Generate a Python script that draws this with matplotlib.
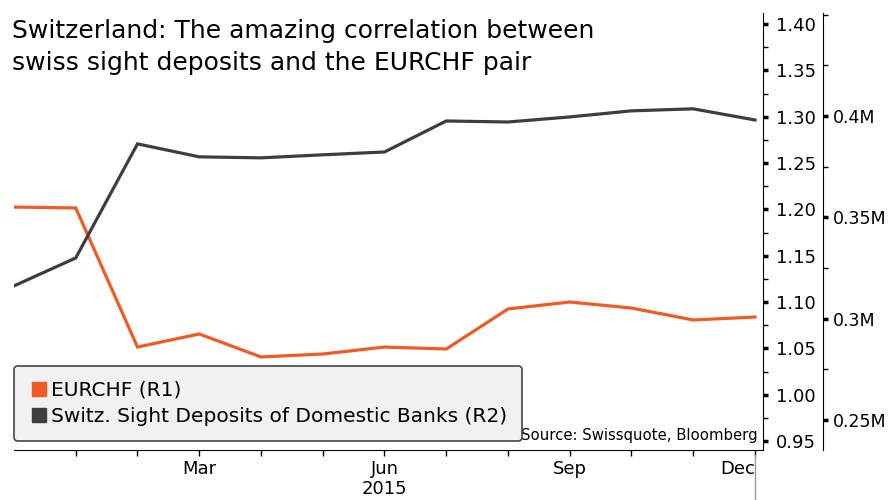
import numpy as np
import matplotlib
matplotlib.use("Agg")
import matplotlib.pyplot as plt
import matplotlib.transforms as mtransforms
from matplotlib.lines import Line2D
from matplotlib.ticker import MultipleLocator, FixedLocator, FuncFormatter

plt.rcParams['font.family'] = ['DejaVu Sans']

# month index 0 = Dec 2014 ... 12 = Dec 2015
months = np.arange(13)
eurchf = [1.2025, 1.2015, 1.0514, 1.0655, 1.0407, 1.0439, 1.0514, 1.0493,
          1.0925, 1.1000, 1.0935, 1.0806, 1.0838]
deposits = [0.3161, 0.3299, 0.3862, 0.3798, 0.3793, 0.3808, 0.3822, 0.3975,
            0.3970, 0.3995, 0.4025, 0.4035, 0.3980]
tick_labels = {3: "Mar", 6: "Jun", 9: "Sep", 12: "Dec"}
year_label = "2015"

ORANGE = "#f15a24"
GRAY = "#3d3d3d"

fig = plt.figure(figsize=(8.95, 5.0), dpi=100)
ax1 = fig.add_axes([14 / 895, 50 / 500, 749 / 895, 437 / 500])
ax2 = ax1.twinx()

ax1.plot(months, eurchf, color=ORANGE, lw=2.3, solid_joinstyle='miter', zorder=3)
ax2.plot(months, deposits, color=GRAY, lw=2.3, solid_joinstyle='miter', zorder=2)

ax1.set_xlim(0, 12.13)
ax1.set_ylim(0.9403, 1.4119)
ax2.set_ylim(0.2351, 0.4508)

for ax in (ax1, ax2):
    ax.spines['top'].set_visible(False)
    ax.spines['left'].set_visible(False)
    ax.set_facecolor('none')

ax1.yaxis.tick_right()
ax1.yaxis.set_major_locator(MultipleLocator(0.05))
ax1.yaxis.set_minor_locator(MultipleLocator(0.025))
ax1.yaxis.set_major_formatter(FuncFormatter(lambda v, p: f"{v:.2f}"))
ax1.tick_params(axis='y', which='major', direction='out', length=3.5, width=2.5, pad=6, labelsize=13)
ax1.tick_params(axis='y', which='minor', direction='out', length=3.5, width=1)

ax2.spines['right'].set_position(('outward', 43))
ax2.spines['bottom'].set_visible(False)
ax2.yaxis.set_major_locator(FixedLocator([0.25, 0.30, 0.35, 0.40]))
ax2.yaxis.set_minor_locator(MultipleLocator(0.025))
ax2.yaxis.set_major_formatter(FuncFormatter(lambda v, p: f"{v:g}M"))
ax2.tick_params(axis='y', which='major', direction='out', length=3.5, width=2.5, pad=4, labelsize=12.5)
ax2.tick_params(axis='y', which='minor', direction='out', length=3.5, width=1)

ax1.set_xticks(range(1, 13))
ax1.set_xticklabels([tick_labels.get(m, "") for m in range(1, 13)])
ax1.tick_params(axis='x', direction='out', length=4, width=1, pad=3, labelsize=13)
for lbl in ax1.get_xticklabels():
    if lbl.get_text() == "Dec":
        lbl.set_horizontalalignment('right')
        lbl.set_x(12.1)

trans = mtransforms.blended_transform_factory(ax1.transData, ax1.transAxes)
ax1.text(6, -0.068, year_label, transform=trans, ha='center', va='top', fontsize=13)
ax1.plot([12, 12], [-0.012, -0.12], transform=trans, color='#999999', lw=1, clip_on=False)

handles = [Line2D([], [], ls='none', marker='s', markersize=10, color=ORANGE),
           Line2D([], [], ls='none', marker='s', markersize=10, color=GRAY)]
leg = ax2.legend(handles, ["EURCHF (R1)", "Switz. Sight Deposits of Domestic Banks (R2)"],
                 loc='lower left', bbox_to_anchor=(0.0, 0.021), borderaxespad=0, fontsize=14.5,
                 handletextpad=0.1, handlelength=1.0, labelspacing=0.35,
                 borderpad=0.75, frameon=True, fancybox=True, framealpha=1)
leg.get_frame().set_facecolor('#f0f1f0')
leg.get_frame().set_edgecolor('#444444')
leg.get_frame().set_linewidth(1.2)

ax2.text(0.993, 0.016, "Source: Swissquote, Bloomberg", transform=ax2.transAxes,
         ha='right', va='bottom', fontsize=10.7, zorder=5,
         bbox=dict(facecolor='white', edgecolor='none', pad=2))

fig.text(12 / 895, 1 - 19 / 500, "Switzerland: The amazing correlation between\nswiss sight deposits and the EURCHF pair",
         ha='left', va='top', fontsize=18, linespacing=1.4)

fig.savefig("out.png", dpi=100)
